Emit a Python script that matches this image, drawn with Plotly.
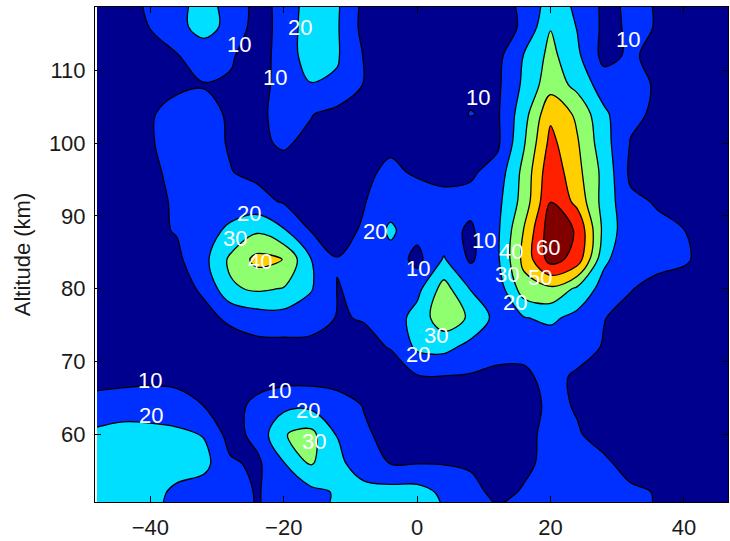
import plotly.graph_objects as go

# Horizontal grid coordinate (deg) and altitude grid (km)
x_grid = [-48, -44, -40, -36, -32, -28, -24, -20, -16, -12, -8, -4, 0,
          4, 8, 12, 16, 20, 24, 28, 32, 36, 40, 44, 48]
alt_km = [48, 52, 56, 60, 64, 68, 72, 76, 80, 84, 88, 92, 96, 100, 104,
          108, 112, 116, 120]

# Field values, one row per altitude (columns follow x_grid)
z_048 = [25, 25, 22, 17, 14, 12, 9.5, 13, 18, 23, 26, 26, 25, 21, 15, 13, 12, 13, 13, 12, 11, 9.5, 7, 6, 5]
z_052 = [24, 24, 23, 18, 15, 13, 9.5, 13, 17, 21, 24, 24, 24, 18, 12.5, 8, 10.7, 13, 13, 12, 11, 9.7, 7, 6, 5]
z_056 = [26, 27, 26, 24, 23, 11.5, 8, 19.5, 31, 23, 14, 9.8, 9.8, 9.6, 9, 8, 8.5, 12, 13, 11, 8, 7, 6, 5, 5]
z_060 = [22, 23, 22.5, 22, 19.5, 6, 13, 29.5, 33, 19.5, 11.5, 7, 7, 7, 7, 7, 8.5, 11.5, 10.5, 8, 7, 6, 5, 5, 5]
z_064 = [14, 16, 16, 14, 9.8, 7, 12, 17, 17.5, 15, 9.5, 6, 5, 5, 5, 5.5, 7, 11.5, 9.5, 7, 6, 5, 5, 5, 5]
z_068 = [6, 6, 7, 7, 6.5, 6, 6.5, 6, 6, 5, 6, 7, 9.5, 9.9, 9.3, 8.5, 8.8, 12, 9, 7, 6, 5.5, 5, 5, 5]
z_072 = [5, 5.5, 6, 6.5, 7, 7.5, 7, 7, 7.5, 7.5, 8.5, 10.3, 22, 23, 17, 12.5, 12, 14, 13, 9.5, 7.5, 6.5, 6, 5.5, 5]
z_076 = [5, 5.5, 6.5, 7.5, 8.5, 11, 15, 16, 14, 9.6, 10.3, 14, 24, 36, 28.5, 16.5, 19.5, 22, 17, 10.2, 8, 7, 6, 5.5, 5]
z_080 = [5, 6, 7, 8, 10.8, 28.5, 31.5, 29.5, 21, 9.8, 11, 10.2, 17, 34, 19.5, 14, 35.5, 38, 28, 16, 10.3, 8, 6.5, 5.5, 5]
z_084 = [5, 6.5, 7, 8, 17, 32, 43, 39.8, 20.5, 10.3, 11.5, 16, 7, 21, 8.5, 18, 43, 64, 56, 22, 13, 12, 11, 7, 5]
z_088 = [5, 7, 8, 10.6, 16, 22, 28.5, 21, 9.8, 7, 11, 22, 13, 13.5, 8.5, 18, 40.5, 66, 59, 27, 13, 12, 10.1, 7, 5]
z_092 = [5, 6.5, 8, 11, 14, 15, 13, 9, 7, 7, 9.5, 15, 14, 13, 13, 17, 34, 59.8, 47, 26, 12, 9.2, 7, 6, 5]
z_096 = [5, 6.5, 8.5, 12, 13, 10.3, 8, 7, 6.5, 6.5, 8.5, 11.5, 9, 7, 8.5, 14, 33, 57, 43, 27, 8, 7, 6, 5.5, 5]
z_100 = [5, 7, 9.6, 12, 13, 9.3, 8.5, 11, 8, 6.5, 7.5, 8.5, 7.5, 6.5, 6.5, 8, 29, 53, 41, 24, 9.5, 7.5, 6, 5.5, 5]
z_104 = [5, 7, 9.5, 12, 12.5, 9, 8, 13, 10.5, 7, 6, 5.5, 6, 7, 10.3, 8.5, 26, 48, 38, 22, 12, 8.5, 6.5, 5.5, 5]
z_108 = [5, 6, 7.5, 9, 9.6, 9, 7, 13, 19.5, 18.5, 9.5, 6, 5.5, 6, 8, 8, 22, 36, 27, 15, 13, 9, 7, 6, 5]
z_112 = [5, 6, 8, 9.5, 14, 11, 5.5, 14, 25, 21, 9.5, 6, 5, 5, 6, 7, 20.5, 33, 22, 7, 11.5, 7, 6, 5, 5]
z_116 = [6, 7, 10.2, 17, 24, 17, 6, 13, 26, 21, 7, 5, 5, 5, 6, 7, 11, 29.5, 19.5, 8, 11, 9.8, 7, 6, 5]
z_120 = [6, 8, 11, 17, 23, 16, 7, 12.5, 25, 21.5, 8, 5, 5, 5, 6, 7, 12, 24, 18, 8, 11.5, 9.5, 7, 6, 5]

z_rows = [z_048, z_052, z_056, z_060, z_064, z_068, z_072, z_076, z_080,
          z_084, z_088, z_092, z_096, z_100, z_104, z_108, z_112, z_116, z_120]

# Contour levels
levels = [10, 20, 30, 40, 50, 60]

# Inline contour labels: (text, x, altitude)
label_text = ["10", "20", "10", "10", "10", "20", "30", "40", "20", "10", "10",
              "40", "30", "50", "60", "20", "30", "20", "10", "20", "10", "20", "30"]
label_x = [-26.7, -17.5, -21.3, 31.6, 9.1, -25.2, -27.3, -23.6, -6.3, 0.1, 10.0,
           14.0, 13.5, 18.4, 19.6, 14.6, 2.8, 0.1, -40.1, -39.9, -20.7, -16.3, -15.5]
label_y = [113.5, 115.9, 109.0, 114.2, 106.2, 90.3, 86.9, 83.7, 87.8, 82.8, 86.6,
           85.1, 82.0, 81.6, 85.7, 78.1, 73.6, 70.9, 67.4, 62.6, 66.0, 63.3, 59.0]

# Band colours (jet): <10, 10-20, 20-30, 30-40, 40-50, 50-60, >60
band_colors = ["#00008F", "#0030FF", "#00DFFF", "#8FFF70", "#FFCF00", "#FF2000", "#800000"]

# Stepped colour scale so each filled band gets one flat colour
edges = [0, 1 / 12, 3 / 12, 5 / 12, 7 / 12, 9 / 12, 11 / 12, 1]
colorscale = []
for i, c in enumerate(band_colors):
    colorscale.append([edges[i], c])
    colorscale.append([edges[i + 1], c])

font_family = "Liberation Sans, Arial, Helvetica, sans-serif"

fig = go.Figure()
fig.add_trace(go.Contour(
    x=x_grid,
    y=alt_km,
    z=z_rows,
    autocontour=False,
    contours=dict(start=levels[0], end=levels[-1], size=levels[1] - levels[0],
                  coloring="fill", showlines=True),
    line=dict(color="black", width=1.3, smoothing=1),
    colorscale=colorscale,
    showscale=False,
    hoverinfo="skip",
))

for t, lx, ly in zip(label_text, label_x, label_y):
    fig.add_annotation(x=lx, y=ly, xref="x", yref="y", text=t, showarrow=False,
                       font=dict(family=font_family, size=22, color="white"))

fig.update_layout(
    width=730, height=541,
    margin=dict(l=95, r=1, t=7, b=36),
    paper_bgcolor="white", plot_bgcolor="white",
    font=dict(family=font_family, size=22, color="#1a1a1a"),
    showlegend=False,
)
fig.update_xaxes(
    range=[-48.3, 46.6], tickvals=[-40, -20, 0, 20, 40],
    ticks="inside", ticklen=6, tickcolor="black",
    showline=True, linecolor="black", linewidth=1, mirror="ticks",
    showgrid=False, zeroline=False, ticklabelstandoff=6,
)
fig.update_yaxes(
    range=[50.7, 118.7], tickvals=[60, 70, 80, 90, 100, 110],
    ticks="inside", ticklen=6, tickcolor="black",
    showline=True, linecolor="black", linewidth=1, mirror="ticks",
    showgrid=False, zeroline=False, ticklabelstandoff=4,
    title=dict(text="Altitude (km)", standoff=12, font=dict(size=22)),
)

fig.write_html("out.html")
